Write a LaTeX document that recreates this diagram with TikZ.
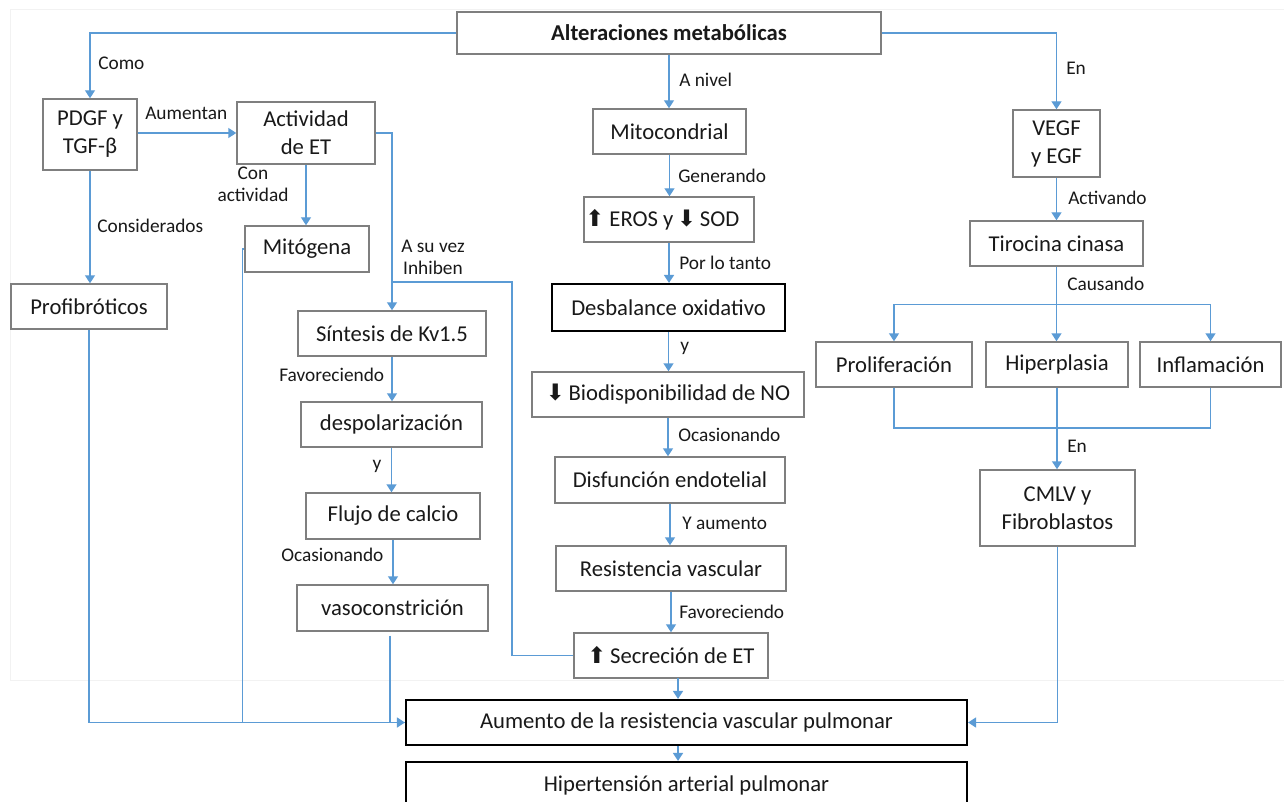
\documentclass[tikz,border=0pt]{standalone}
\usepackage{fontspec}
\setmainfont{Carlito}
\newfontfamily\symf{DejaVu Sans}
\usetikzlibrary{arrows.meta,calc}
\definecolor{cblue}{HTML}{5B9BD5}
\definecolor{bord}{HTML}{7F7F7F}
\newcommand\upa{{\symf\fontsize{17}{17}\selectfont ⬆}}
\newcommand\dna{{\symf\fontsize{17}{17}\selectfont ⬇}}
\newcommand\mybox[7][]{\node[box,#1,minimum width={(#5-#3)*0.75pt},minimum height={(#6-#4)*0.75pt}] (#2) at ({(#3+#5)/2},{(#4+#6)/2}) {#7};}
\begin{document}
\begin{tikzpicture}[x=0.75pt,y=-0.75pt,
  box/.style={draw=bord,line width=1.1pt,inner sep=0pt,align=center,font=\fontsize{17}{21}\selectfont,text=black!90},
  thick box/.style={draw=black,line width=1.6pt},
  lbl/.style={font=\fontsize{14.5}{16.5}\selectfont,inner sep=0pt,text=black!90},
  lnk/.style={draw=cblue,line width=1.1pt},
  arr/.style={lnk,-{Triangle[width=7.5pt,length=6pt]}}]
\clip (0,0) rectangle (1284,802);
\fill[white] (0,0) rectangle (1284,802);
\draw[black!5,line width=0.75pt] (10,680) |- (1284,10);
\draw[black!5,line width=0.75pt] (10,680) -- (1284,680);
% boxes
\mybox{alt}{457}{12}{881}{54}{\bfseries Alteraciones metabólicas}
\mybox{pdgf}{43}{99}{137}{170}{PDGF y\\TGF-β}
\mybox{act}{237}{102}{375}{164}{Actividad\\de ET}
\mybox{mit}{245}{226}{369}{272}{Mitógena}
\mybox{prof}{11}{284}{167}{329}{Profibróticos}
\mybox{kv}{298}{311}{486}{356}{Síntesis de Kv1.5}
\mybox{desp}{301}{402}{482}{447}{despolarización}
\mybox{flu}{306}{493}{480}{539}{Flujo de calcio}
\mybox{vaso}{297}{585}{488}{631}{vasoconstrición}
\mybox{mito}{593}{109}{746}{154}{Mitocondrial}
\mybox{eros}{584}{197}{754}{242}{\upa\ EROS y\,\dna\,SOD\hspace{10pt}}
\mybox[thick box]{desb}{552}{284}{785}{331}{Desbalance oxidativo}
\mybox{bio}{532}{372}{804}{417}{\dna\,Biodisponibilidad de NO}
\mybox{dis}{555}{457}{785}{503}{Disfunción endotelial}
\mybox{res}{556}{546}{786}{591}{Resistencia vascular}
\mybox{sec}{574}{633}{768}{678}{\upa\,Secreción de ET}
\mybox[thick box]{aum}{406}{700}{967}{745}{Aumento de la resistencia vascular pulmonar}
\mybox[thick box]{hip}{406}{762}{967}{808}{Hipertensión arterial pulmonar}
\mybox{vegf}{1013}{110}{1100}{177}{VEGF\\y EGF}
\mybox{tir}{970}{221}{1143}{266}{Tirocina cinasa}
\mybox{prol}{816}{342}{972}{387}{Proliferación}
\mybox{hipe}{986}{342}{1128}{387}{Hiperplasia}
\mybox{infl}{1140}{342}{1281}{387}{Inflamación}
\mybox{cmlv}{980}{470}{1135}{546}{CMLV y\\Fibroblastos}
% connectors
\draw[arr] (alt.west) -| (pdgf.north);
\draw[arr] (alt.east) -| (vegf.north);
\draw[arr] (vegf.south) -- (vegf.south |- tir.north);
\draw[arr] (alt.south) -- (alt.south |- mito.north);
\draw[arr] (mito.south) -- (mito.south |- eros.north);
\draw[arr] (eros.south) -- (eros.south |- desb.north);
\draw[arr] (desb.south) -- (desb.south |- bio.north);
\draw[arr] (bio.south) -- (bio.south |- dis.north);
\draw[arr] (dis.south) -- (dis.south |- res.north);
\draw[arr] (res.south) -- (res.south |- sec.north);
\coordinate (cx) at (678,678);
\draw[arr] (cx) -- (cx |- aum.north);
\draw[arr] (cx |- aum.south) -- (cx |- hip.north);
\draw[arr] (act.west -| pdgf.east) -- (act.west);
\draw[arr] (pdgf.south) -- (pdgf.south |- prof.north);
\draw[arr] (act.south) -- (act.south |- mit.north);
\draw[arr] (act.east) -| (kv.north);
\coordinate (inh) at (kv.north |- 0,282);
\draw[lnk] (sec.west) -| (512,282) -- (inh);
\draw[arr] (kv.south) -- (kv.south |- desp.north);
\draw[arr] (desp.south) -- (desp.south |- flu.north);
\draw[arr] (flu.south) -- (flu.south |- vaso.north);
\draw[arr] (prof.south) |- (aum.west);
\draw[lnk] (mit.west) -- ++(-2,0) |- (aum.west);
\draw[lnk] ([xshift=-2pt,yshift=-3pt]vaso.south) |- (aum.west);
\draw[arr] (cmlv.south) |- (aum.east);
\draw[lnk] (tir.south) -- ++(0,38) coordinate (br);
\draw[arr] (br) -| (prol.north);
\draw[arr] (br) -- (br |- hipe.north);
\draw[arr] (br) -| (infl.north);
\coordinate (jn) at (hipe.south |- 0,428);
\draw[lnk] (prol.south) |- (jn);
\draw[lnk] (infl.south) |- (jn);
\draw[arr] (hipe.south) -- (hipe.south |- cmlv.north);
% labels
\node[lbl,anchor=west] (l1) at (98,63) {Como};
\node[lbl,anchor=west] (l2) at (145,113) {Aumentan};
\node[lbl,anchor=west] (l3) at (97,226) {Considerados};
\node[lbl,align=center] (l4) at (253,184) {Con\\actividad};
\node[lbl,align=center] (l5) at (433,257) {A su vez\\Inhiben};
\node[lbl,anchor=west] (l6) at (279,375) {Favoreciendo};
\node[lbl] (l7) at (377,466) {y};
\node[lbl,anchor=west] (l8) at (281,555) {Ocasionando};
\node[lbl,anchor=west] (l9) at (679,80) {A nivel};
\node[lbl,anchor=west] (l10) at (678,176) {Generando};
\node[lbl,anchor=west] (l11) at (679,263) {Por lo tanto};
\node[lbl,anchor=west] (l12) at (680,348) {y};
\node[lbl,anchor=west] (l13) at (678,435) {Ocasionando};
\node[lbl,anchor=west] (l14) at (682,523) {Y aumento};
\node[lbl,anchor=west] (l15) at (679,612) {Favoreciendo};
\node[lbl,anchor=west] (l16) at (1066,68) {En};
\node[lbl,anchor=west] (l17) at (1068,198) {Activando};
\node[lbl,anchor=west] (l18) at (1067,284) {Causando};
\node[lbl,anchor=west] (l19) at (1067,446) {En};
\end{tikzpicture}
\end{document}
